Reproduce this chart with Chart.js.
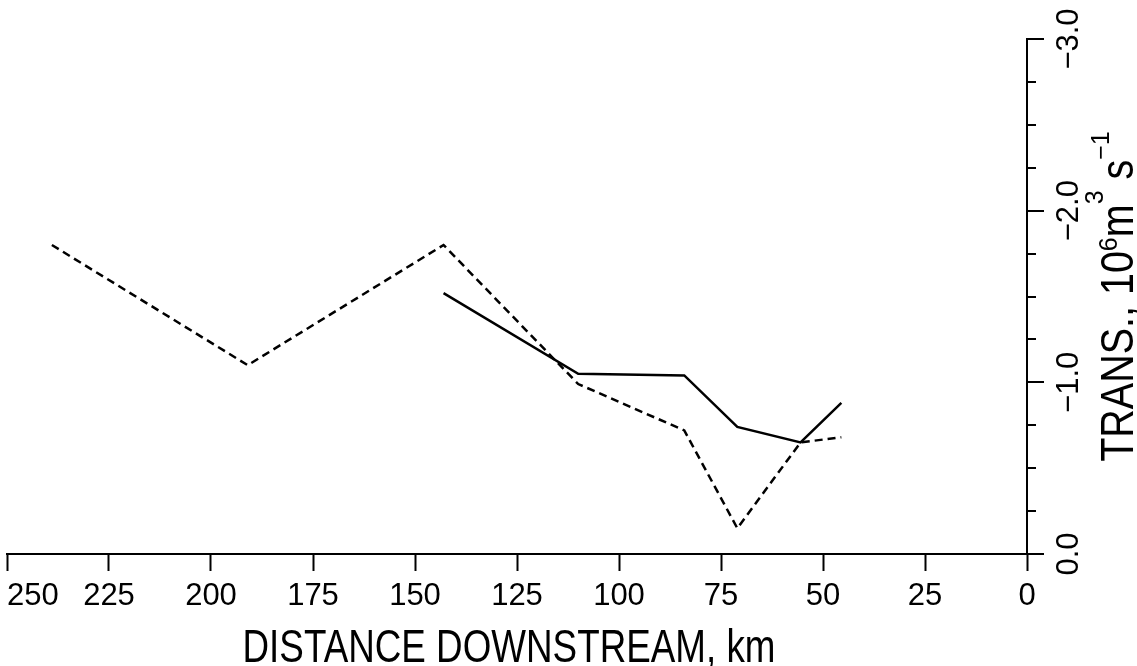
<!DOCTYPE html>
<html>
<head>
<meta charset="utf-8">
<script src="https://cdn.jsdelivr.net/npm/chart.js@4.4.1/dist/chart.umd.min.js"></script>
<style>
  html, body { margin: 0; padding: 0; background: #fff; }
</style>
</head>
<body>
<canvas id="c" width="1137" height="666"></canvas>
<script>
// values (km downstream, transport in 10^6 m^3 s^-1)
const dashedKm = [239, 191, 143, 110, 84, 71, 55.5, 45.5];
const dashedTrans = [-1.80, -1.10, -1.80, -0.99, -0.72, -0.15, -0.65, -0.68];

const solidKm = [143, 110, 84, 71, 55.5, 45.5];
const solidTrans = [-1.52, -1.05, -1.04, -0.74, -0.65, -0.88];

// labelled y ticks (only the whole units carry text)
const yLabelValues = [0, -1, -2, -3];
const yLabels = ["0.0", "\u22121.0", "\u22122.0", "\u22123.0"];

const xTitle = "DISTANCE DOWNSTREAM, km";
// y title pieces; sup = raise in px (0 = normal text)
const yTitle = [
  { t: "TRANS., 10", sup: 0 },
  { t: "6", sup: 16 },
  { t: "m", sup: 0 },
  { t: "3", sup: 30 },
  { t: " s", sup: 0 },
  { t: "\u22121", sup: 24 },
];

const FONT = '"Liberation Sans", Arial, sans-serif';
const NARROW = 0.8; // titles are a condensed face

const toPoints = (xs, ys) => xs.map((x, i) => ({ x, y: ys[i] }));

// ---- hand drawn bits: tick labels, y ticks, titles ----
const overlay = {
  id: "overlay",
  afterDraw(chart) {
    const ctx = chart.ctx;
    const xs = chart.scales.x;
    const ys = chart.scales.y;
    const area = chart.chartArea;

    ctx.save();
    ctx.strokeStyle = "#000";
    ctx.fillStyle = "#000";
    ctx.lineWidth = 2;

    // x tick labels; the outermost one sits inside the frame
    ctx.font = "31px " + FONT;
    ctx.textBaseline = "alphabetic";
    xs.ticks.forEach((t) => {
      const px = xs.getPixelForValue(t.value);
      ctx.textAlign = t.value === xs.max ? "left" : "center";
      ctx.fillText(String(t.value), t.value === xs.max ? px : px, 605);
    });

    ys.ticks.forEach((t) => {
      const py = Math.round(ys.getPixelForValue(t.value));
      const major = Math.abs(t.value - Math.round(t.value)) < 1e-6;
      ctx.beginPath();
      ctx.moveTo(ys.left, py);
      ctx.lineTo(ys.left + (major ? 17 : 9), py);
      ctx.stroke();
    });

    // y tick labels, reading bottom to top
    ctx.textAlign = "center";
    yLabelValues.forEach((v, i) => {
      ctx.save();
      ctx.translate(ys.left + 51, ys.getPixelForValue(v));
      ctx.rotate(-Math.PI / 2);
      ctx.fillText(yLabels[i], 0, 0);
      ctx.restore();
    });

    // y title with superscripts
    ctx.textAlign = "left";
    const pieces = yTitle.map((p) => {
      const font = (p.sup ? "25px " : "47px ") + FONT;
      ctx.font = font;
      const sx = p.sup ? 1 : 0.84;
      return { ...p, font, sx, w: ctx.measureText(p.t).width * sx };
    });
    const total = pieces.reduce((s, p) => s + p.w, 0);
    const midY = (area.top + area.bottom) / 2;
    ctx.save();
    ctx.translate(ys.left + 106, midY + total / 2);
    ctx.rotate(-Math.PI / 2);
    let run = 0;
    pieces.forEach((p) => {
      ctx.save();
      ctx.font = p.font;
      ctx.translate(run, -p.sup);
      ctx.scale(p.sx, 1);
      ctx.fillText(p.t, 0, 0);
      ctx.restore();
      run += p.w;
    });
    ctx.restore();

    // x title
    ctx.font = "46px " + FONT;
    const w = ctx.measureText(xTitle).width * NARROW;
    ctx.save();
    ctx.translate((xs.left + xs.right) / 2 - 8 - w / 2, 662);
    ctx.scale(NARROW, 1);
    ctx.fillText(xTitle, 0, 0);
    ctx.restore();

    ctx.restore();
  },
};

new Chart(document.getElementById("c"), {
  type: "line",
  data: {
    datasets: [
      {
        label: "dashed",
        data: toPoints(dashedKm, dashedTrans),
        borderColor: "#000",
        borderWidth: 2.5,
        borderDash: [8, 5],
        pointRadius: 0,
        tension: 0,
        fill: false,
        clip: false,
      },
      {
        label: "solid",
        data: toPoints(solidKm, solidTrans),
        borderColor: "#000",
        borderWidth: 2.5,
        pointRadius: 0,
        tension: 0,
        fill: false,
        clip: false,
      },
    ],
  },
  options: {
    responsive: false,
    animation: false,
    devicePixelRatio: 1,
    layout: { padding: { left: 7, top: 39, right: 0, bottom: 0 } },
    plugins: {
      legend: { display: false },
      tooltip: { enabled: false },
    },
    scales: {
      x: {
        type: "linear",
        position: "bottom",
        min: 0,
        max: 250,
        reverse: true,
        ticks: { stepSize: 25, display: false, autoSkip: false },
        grid: {
          drawOnChartArea: false,
          drawTicks: true,
          tickLength: 17,
          tickWidth: 2,
          tickColor: "#000",
        },
        border: { display: true, color: "#000", width: 2 },
        afterFit(s) {
          s.height = 112;
          s.paddingLeft = 0;
          s.paddingRight = 0;
        },
      },
      y: {
        type: "linear",
        position: "right",
        min: -3,
        max: 0,
        reverse: true,
        ticks: { stepSize: 0.25, display: false },
        grid: { drawOnChartArea: false, drawTicks: false },
        border: { display: true, color: "#000", width: 2 },
        afterFit(s) {
          s.width = 110;
          s.paddingTop = 0;
          s.paddingBottom = 0;
        },
      },
    },
  },
  plugins: [overlay],
});
</script>
</body>
</html>
